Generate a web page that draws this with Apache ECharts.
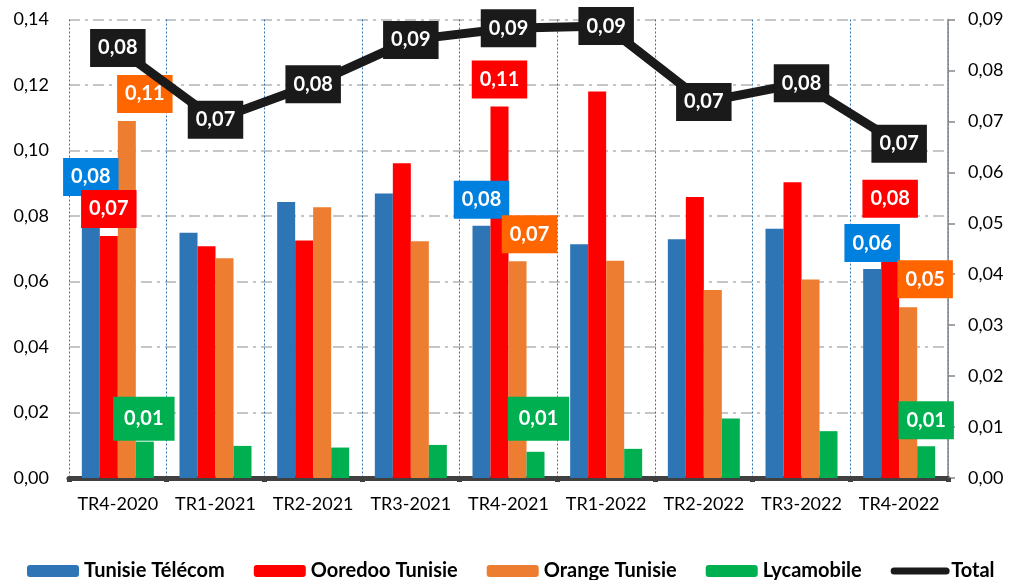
<!DOCTYPE html>
<html>
<head>
<meta charset="utf-8">
<script src="https://cdn.jsdelivr.net/npm/echarts@6/dist/echarts.min.js"></script>
<style>
  html, body { margin: 0; padding: 0; background: #fff; }
  #chart { width: 1010px; height: 580px; }
</style>
</head>
<body>
<div id="chart"></div>
<script>
var categories = ["TR4-2020", "TR1-2021", "TR2-2021", "TR3-2021", "TR4-2021", "TR1-2022", "TR2-2022", "TR3-2022", "TR4-2022"];
var tunisieTelecom = [0.080, 0.0749, 0.0843, 0.0869, 0.0770, 0.0714, 0.0729, 0.0761, 0.0638];
var ooredoo = [0.0739, 0.0708, 0.0725, 0.0961, 0.1134, 0.1180, 0.0858, 0.0903, 0.0770];
var orangeTn = [0.109, 0.0671, 0.0827, 0.0723, 0.0662, 0.0663, 0.0574, 0.0606, 0.0521];
var lycamobile = [0.0111, 0.0098, 0.0093, 0.0101, 0.0080, 0.0089, 0.0182, 0.0143, 0.0097];
var total = [0.0844, 0.0703, 0.0773, 0.0860, 0.0883, 0.0887, 0.0738, 0.0775, 0.0656];

// categories whose bars carry a value label
var labelled = [0, 4, 8];

var FONT = "Lato";

function fmt(v) {
  return v.toFixed(2).replace(".", ",");
}

// label look and nudges, per series, for the labelled categories
var barLabels = [
  { bg: "#0080de", offsets: [[0, -15], [0, -2], [0, -2]], pads: [[9, 8], [9, 8], [9, 8]] },
  { bg: "#ff0000", offsets: [[0, -3], [0, -3], [0, -3]], pads: [[9, 8], [9, 8], [9, 8]] },
  { bg: "#ff6600", offsets: [[18, -3], [12, -3], [17, -4]], pads: [[9, 8], [9, 8], [9, 8]] },
  { bg: "#00b050", offsets: [[-1, 4], [3, -6], [0, -2]], pads: [[12, 11], [12, 11], [9, 8]] }
];

function barData(values, idx) {
  var cfg = barLabels[idx];
  return values.map(function (v, i) {
    var k = labelled.indexOf(i);
    if (k < 0) return v;
    return {
      value: v,
      label: {
        show: true,
        position: "top",
        distance: 5,
        offset: cfg.offsets[k],
        padding: cfg.pads[k],
        backgroundColor: cfg.bg,
        color: "#fff",
        fontFamily: FONT,
        fontWeight: "bold",
        fontSize: 20,
        lineHeight: 20,
        formatter: function (p) { return fmt(p.value); }
      }
    };
  });
}

var colors = ["#2e75b6", "#ff0000", "#ed7d31", "#00b050"];
var names = ["Tunisie Télécom", "Ooredoo Tunisie", "Orange Tunisie", "Lycamobile"];
var values = [tunisieTelecom, ooredoo, orangeTn, lycamobile];

var series = values.map(function (vals, i) {
  return {
    name: names[i],
    type: "bar",
    barWidth: 18,
    barGap: "0%",
    itemStyle: { color: colors[i] },
    data: barData(vals, i)
  };
});

series.push({
  name: "Total",
  type: "line",
  yAxisIndex: 1,
  symbol: "circle",
  symbolSize: 1,
  itemStyle: { color: "#1a1a1a" },
  lineStyle: { color: "#1a1a1a", width: 9, cap: "round" },
  label: {
    show: true,
    position: "inside",
    backgroundColor: "#1a1a1a",
    padding: [9, 8],
    color: "#fff",
    fontFamily: FONT,
    fontWeight: "bold",
    fontSize: 20,
    lineHeight: 20,
    formatter: function (p) { return fmt(p.value); }
  },
  z: 5,
  data: total
});

var chart = echarts.init(document.getElementById("chart"));
chart.setOption({
  animation: false,
  textStyle: { fontFamily: FONT },
  grid: { left: 69, right: 62, top: 19.5, bottom: 102 },
  legend: {
    left: 22,
    top: 556,
    itemWidth: 52,
    itemHeight: 12,
    itemGap: 29,
    textStyle: { fontFamily: FONT, fontWeight: "bold", fontSize: 20, color: "#000" },
    data: names.concat([{ name: "Total", itemStyle: { opacity: 0 }, lineStyle: { width: 7, cap: "round" } }])
  },
  xAxis: {
    type: "category",
    data: categories,
    axisLine: { lineStyle: { color: "#404040", width: 5 } },
    axisTick: { show: true, interval: 0, length: 4, lineStyle: { color: "#404040", width: 5 } },
    axisLabel: { interval: 0, color: "#000", fontSize: 18, margin: 17 },
    splitLine: { show: true, interval: 0, lineStyle: { color: "#2e75b6", width: 1, type: [2, 2] } }
  },
  yAxis: [
    {
      type: "value",
      min: 0,
      max: 0.14,
      interval: 0.02,
      axisLine: { show: false },
      axisTick: { show: false },
      axisLabel: { color: "#000", fontSize: 18, margin: 20, formatter: fmt },
      splitLine: { lineStyle: { color: "#c6c6c6", width: 2, type: [11, 5, 3, 5] } }
    },
    {
      type: "value",
      min: 0,
      max: 0.09,
      interval: 0.01,
      position: "right",
      axisLine: { show: true, lineStyle: { color: "#868686", width: 1.5 } },
      axisTick: { show: true, length: 7, lineStyle: { color: "#868686", width: 1.5 } },
      axisLabel: { color: "#000", fontSize: 18, margin: 20, formatter: fmt },
      splitLine: { show: false }
    }
  ],
  series: series
});
</script>
</body>
</html>
